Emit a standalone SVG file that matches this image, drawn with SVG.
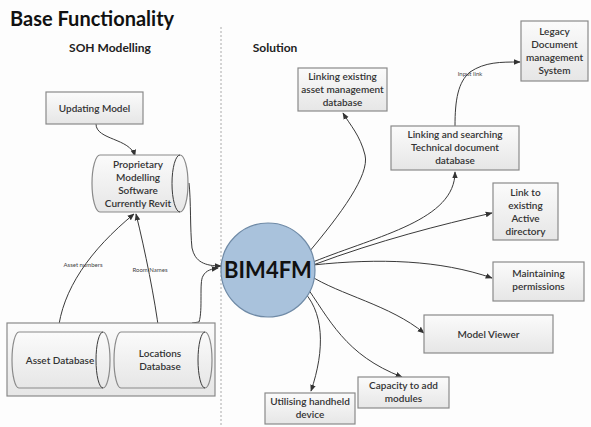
<svg xmlns="http://www.w3.org/2000/svg" width="591" height="427" viewBox="0 0 591 427">
<defs>
<linearGradient id="g" x1="0" y1="0" x2="0" y2="1"><stop offset="0" stop-color="#fbfbfb"/><stop offset="1" stop-color="#e6e6e6"/></linearGradient>
<marker id="a" viewBox="0 0 10 10" refX="9" refY="5" markerWidth="7" markerHeight="7" orient="auto-start-reverse" markerUnits="userSpaceOnUse"><path d="M0,1 L10,5 L0,9 Z" fill="#333"/></marker>
<style>
.bx{fill:url(#g);stroke:#8a8a8a;stroke-width:1.2}
.t{font-family:Lato,"Open Sans","Liberation Sans",sans-serif;font-size:10px;fill:#333;text-anchor:middle;font-weight:600}
.s{font-family:Lato,"Liberation Sans",sans-serif;font-size:6px;fill:#444;text-anchor:middle}
.c{fill:none;stroke:#3a3a3a;stroke-width:1}
.ca{fill:none;stroke:#3a3a3a;stroke-width:1;marker-end:url(#a)}
</style>
</defs>
<rect width="591" height="427" fill="#fdfdfd"/>
<text x="10" y="26" font-family="Lato,'Liberation Sans',sans-serif" font-size="20" font-weight="bold" fill="#111">Base Functionality</text>
<text x="110" y="52" font-family="Lato,'Liberation Sans',sans-serif" font-size="12" font-weight="bold" fill="#222" text-anchor="middle">SOH Modelling</text>
<text x="275" y="52" font-family="Lato,'Liberation Sans',sans-serif" font-size="12" font-weight="bold" fill="#222" text-anchor="middle">Solution</text>
<line x1="221" y1="27" x2="221" y2="427" stroke="#aaa" stroke-width="1" stroke-dasharray="2,2"/>

<g id="connectors">
<path class="ca" d="M96,124 C96,140 130,138 135,156"/>
<path class="ca" d="M58,332 C62,290 90,250 134,214"/>
<text class="s" x="83" y="267">Asset numbers</text>
<path class="ca" d="M159,332 C155,300 145,250 136,214"/>
<text class="s" x="150" y="272">Room Names</text>
<path class="ca" d="M189,183 C191,200 190,230 192,248 C195,262 205,266 221,266"/>
<path class="ca" d="M192,323 L199,322 C203,310 199,282 203,276 C206,270 212,269 218,268"/>
<path class="ca" d="M309,252 C340,215 370,175 365,155 C360,135 350,125 343,113"/>
<path class="ca" d="M313,262 C380,235 455,220 455,172"/>
<path class="ca" d="M455,126 C455,100 458,82 470,72 C485,62 500,62 520,62"/>
<text class="s" x="470" y="76">Input link</text>
<path class="ca" d="M313,265 C380,240 440,225 492,213"/>
<path class="ca" d="M313,265 C380,258 440,260 492,278"/>
<path class="ca" d="M309,275 C340,295 390,305 424,333"/>
<path class="ca" d="M304,283 C330,320 345,355 402,377"/>
<path class="ca" d="M300,288 C325,310 325,350 311,391"/>
</g>

<g id="updating-model">
<rect class="bx" x="46" y="92" width="97" height="32"/>
<text class="t" x="94.5" y="112">Updating Model</text>
</g>

<g id="proprietary">
<path class="bx" d="M100,155 L180,155 A8,28.5 0 0 1 180,212 L100,212 A8,28.5 0 0 1 100,155 Z"/>
<path class="c" stroke="#8a8a8a" d="M180,155 A8,28.5 0 0 0 180,212"/>
<text class="t" x="138" y="168">Proprietary</text>
<text class="t" x="138" y="181">Modelling</text>
<text class="t" x="138" y="194">Software</text>
<text class="t" x="138" y="207">Currently Revit</text>
</g>

<g id="databases">
<rect class="bx" x="7" y="323" width="208" height="73"/>
<g id="asset-db">
<path class="bx" d="M19,332 L103,332 A7,28 0 0 1 103,388 L19,388 A7,28 0 0 1 19,332 Z"/>
<path class="c" stroke="#8a8a8a" d="M103,332 A7,28 0 0 0 103,388"/>
<text class="t" x="60" y="364">Asset Database</text>
</g>
<g id="locations-db">
<path class="bx" d="M121,332 L205,332 A7,28 0 0 1 205,388 L121,388 A7,28 0 0 1 121,332 Z"/>
<path class="c" stroke="#8a8a8a" d="M205,332 A7,28 0 0 0 205,388"/>
<text class="t" x="160" y="357">Locations</text>
<text class="t" x="160" y="370">Database</text>
</g>
</g>

<g id="bim4fm">
<circle cx="268" cy="270" r="47" fill="#a9c2dc" stroke="#6f8aa6" stroke-width="1.2"/>
<text x="268" y="278" font-family="Lato,'Liberation Sans',sans-serif" font-size="22" font-weight="bold" fill="#111" text-anchor="middle">BIM4FM</text>
</g>

<g id="linking-existing">
<rect class="bx" x="298" y="68" width="89" height="43"/>
<text class="t" x="342.5" y="80">Linking existing</text>
<text class="t" x="342.5" y="93" font-size="9">asset management</text>
<text class="t" x="342.5" y="106">database</text>
</g>

<g id="legacy">
<rect class="bx" x="521" y="21" width="67" height="60"/>
<text class="t" x="554.5" y="35">Legacy</text>
<text class="t" x="554.5" y="48" font-size="9">Document</text>
<text class="t" x="554.5" y="61">management</text>
<text class="t" x="554.5" y="74">System</text>
</g>

<g id="linking-searching">
<rect class="bx" x="391" y="126" width="128" height="44"/>
<text class="t" x="455" y="138">Linking and searching</text>
<text class="t" x="455" y="151">Technical document</text>
<text class="t" x="455" y="164">database</text>
</g>

<g id="active-directory">
<rect class="bx" x="493" y="183" width="65" height="57"/>
<text class="t" x="525.5" y="196">Link to</text>
<text class="t" x="525.5" y="209">existing</text>
<text class="t" x="525.5" y="222">Active</text>
<text class="t" x="525.5" y="235">directory</text>
</g>

<g id="permissions">
<rect class="bx" x="493" y="262" width="91" height="39"/>
<text class="t" x="538.5" y="277">Maintaining</text>
<text class="t" x="538.5" y="290">permissions</text>
</g>

<g id="model-viewer">
<rect class="bx" x="424" y="315" width="129" height="38"/>
<text class="t" x="488.5" y="338">Model Viewer</text>
</g>

<g id="capacity">
<rect class="bx" x="358" y="377" width="91" height="31"/>
<text class="t" x="403.5" y="389">Capacity to add</text>
<text class="t" x="403.5" y="402">modules</text>
</g>

<g id="handheld">
<rect class="bx" x="265" y="393" width="90" height="31"/>
<text class="t" x="310" y="405">Utilising handheld</text>
<text class="t" x="310" y="418">device</text>
</g>
</svg>
